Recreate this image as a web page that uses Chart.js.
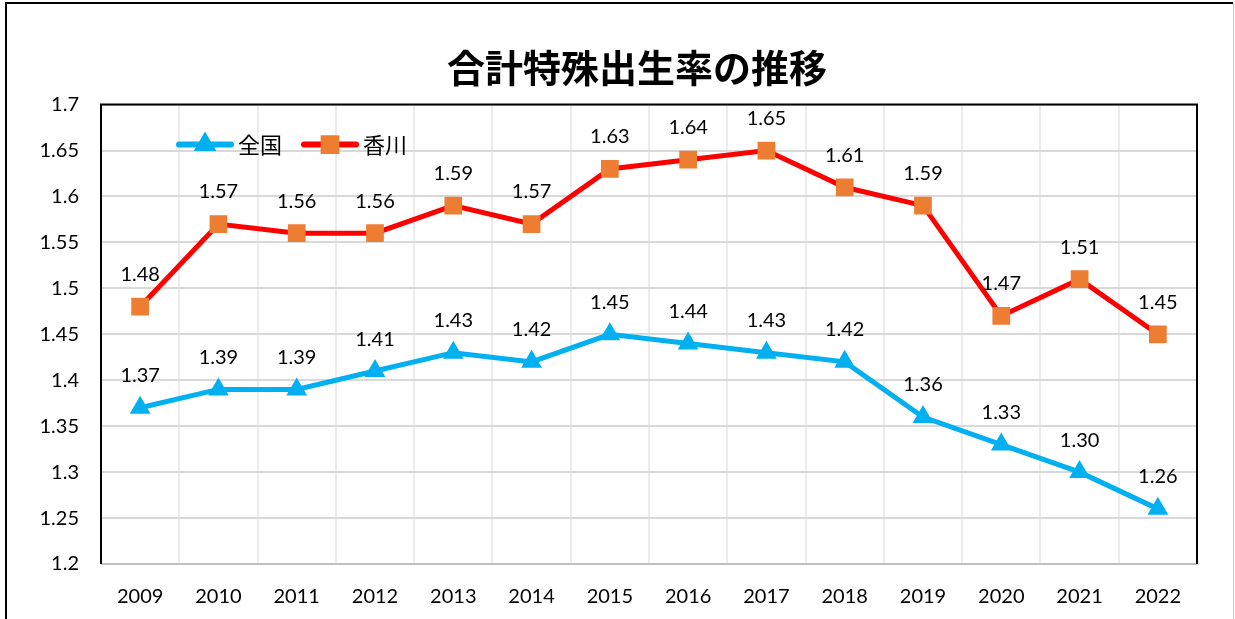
<!DOCTYPE html>
<html lang="ja">
<head>
<meta charset="utf-8">
<title>合計特殊出生率の推移</title>
<script src="https://cdn.jsdelivr.net/npm/chart.js@4"></script>
<style>
  html, body { margin: 0; padding: 0; background: #fff; }
  #wrap { position: absolute; left: 0; top: 0; width: 1235px; height: 619px; }
</style>
</head>
<body>
<div id="wrap"><canvas id="chartTfr" width="1235" height="619"></canvas></div>
<script>
//? Données.
const annees = ["2009", "2010", "2011", "2012", "2013", "2014", "2015", "2016", "2017", "2018", "2019", "2020", "2021", "2022"];
const valeursZenkoku = [1.37, 1.39, 1.39, 1.41, 1.43, 1.42, 1.45, 1.44, 1.43, 1.42, 1.36, 1.33, 1.30, 1.26];
const valeursKagawa = [1.48, 1.57, 1.56, 1.56, 1.59, 1.57, 1.63, 1.64, 1.65, 1.61, 1.59, 1.47, 1.51, 1.45];
const titreGraphique = "合計特殊出生率の推移";
const nomsSeries = ["全国", "香川"];

const policeNombres = "Lato, 'Noto Sans', sans-serif";
const policeJp = "'Noto Sans CJK JP', 'Noto Sans', sans-serif";

const bleu = "#00B0F0";
const rouge = "#FF0000";
const orange = "#ED7D31";

//? -------------------------------------------------

//? Cadre extérieur + cadre de la zone de tracé.
const pluginCadres = {
  id: "cadres",
  beforeDraw(chart) {
    const ctx = chart.ctx;
    ctx.save();
    ctx.fillStyle = "#fff";
    ctx.fillRect(0, 0, chart.width, chart.height);
    ctx.strokeStyle = "#000";
    ctx.lineWidth = 2;
    ctx.beginPath();
    ctx.moveTo(6, chart.height);
    ctx.lineTo(6, 3);
    ctx.lineTo(1233, 3);
    ctx.stroke();
    ctx.strokeStyle = "#c8c8c8";
    ctx.lineWidth = 1;
    ctx.beginPath();
    ctx.moveTo(1233.5, 3);
    ctx.lineTo(1233.5, chart.height);
    ctx.stroke();
    ctx.restore();
  },
  beforeDatasetsDraw(chart) {
    const { ctx, chartArea: a } = chart;
    ctx.save();
    ctx.strokeStyle = "#bfbfbf";
    ctx.lineWidth = 2;
    ctx.beginPath();
    ctx.moveTo(a.left, a.bottom);
    ctx.lineTo(a.right, a.bottom);
    ctx.stroke();
    ctx.strokeStyle = "#000";
    ctx.beginPath();
    ctx.moveTo(a.left, a.bottom);
    ctx.lineTo(a.left, a.top);
    ctx.lineTo(a.right, a.top);
    ctx.lineTo(a.right, a.bottom);
    ctx.stroke();
    ctx.restore();
  },
};

//? Étiquettes de valeurs au-dessus des points.
const pluginEtiquettes = {
  id: "etiquettes",
  afterDatasetsDraw(chart) {
    const ctx = chart.ctx;
    ctx.save();
    ctx.font = "20px " + policeNombres;
    ctx.fillStyle = "#000";
    ctx.textAlign = "center";
    ctx.textBaseline = "middle";
    chart.data.datasets.forEach((ds, i) => {
      chart.getDatasetMeta(i).data.forEach((pt, j) => {
        ctx.fillText(ds.data[j].toFixed(2), pt.x, pt.y - 32);
      });
    });
    ctx.restore();
  },
};

//? Légende dessinée dans la zone de tracé.
const pluginLegende = {
  id: "legendeInterne",
  afterDatasetsDraw(chart) {
    const { ctx, chartArea: a } = chart;
    const y = a.top + 40;
    let x = a.left + 78;
    ctx.save();
    chart.data.datasets.forEach((ds) => {
      ctx.strokeStyle = ds.borderColor;
      ctx.lineWidth = 6;
      ctx.lineCap = "round";
      ctx.beginPath();
      ctx.moveTo(x, y);
      ctx.lineTo(x + 52, y);
      ctx.stroke();
      ctx.fillStyle = ds.pointBackgroundColor;
      ctx.strokeStyle = ds.pointBackgroundColor;
      Chart.helpers.drawPoint(ctx, {
        pointStyle: ds.pointStyle,
        radius: ds.pointRadius,
        borderWidth: 1,
      }, x + 26, y);
      ctx.fillStyle = "#000";
      ctx.font = "22px " + policeJp;
      ctx.textAlign = "left";
      ctx.textBaseline = "middle";
      ctx.fillText(ds.label, x + 59, y);
      x += 59 + ctx.measureText(ds.label).width + 22;
    });
    ctx.restore();
  },
};

//? -------------------------------------------------

//? Construction du graphique.
const constructionDuGraphique = () => {
  const ctx = document.getElementById("chartTfr").getContext("2d");

  const data = {
    labels: annees,
    datasets: [
      {
        label: nomsSeries[0],
        data: valeursZenkoku,
        borderColor: bleu,
        backgroundColor: bleu,
        pointBackgroundColor: bleu,
        pointBorderColor: bleu,
        borderWidth: 5,
        pointStyle: "triangle",
        pointRadius: 7,
        pointHoverRadius: 7,
        tension: 0,
      },
      {
        label: nomsSeries[1],
        data: valeursKagawa,
        borderColor: rouge,
        backgroundColor: orange,
        pointBackgroundColor: orange,
        pointBorderColor: orange,
        borderWidth: 5,
        pointStyle: "rect",
        pointRadius: 9,
        pointHoverRadius: 9,
        tension: 0,
      },
    ],
  };

  const options = {
    responsive: false,
    animation: false,
    layout: { padding: { left: 39, right: 0, top: 0, bottom: 0 } },
    plugins: {
      legend: { display: false },
      tooltip: { enabled: false },
      title: {
        display: true,
        text: titreGraphique,
        color: "#000",
        font: { family: policeJp, size: 38, weight: "bold", lineHeight: 1.2 },
        padding: { top: 45, bottom: 14 },
      },
    },
    scales: {
      x: {
        offset: true,
        grid: { offset: true, color: "#ececec", lineWidth: 2, drawTicks: false },
        border: { display: false },
        ticks: { color: "#000", font: { family: policeNombres, size: 20 }, padding: 21, maxRotation: 0 },
        afterFit: (s) => { s.height = 55; },
      },
      y: {
        min: 1.2,
        max: 1.7,
        grid: { color: "#d9d9d9", lineWidth: 2, drawTicks: false },
        border: { display: false },
        ticks: {
          stepSize: 0.05,
          color: "#000",
          padding: 22,
          font: { family: policeNombres, size: 20 },
          callback: (v) => parseFloat(v.toFixed(2)).toString(),
        },
        afterFit: (s) => { s.width = 62; },
      },
      yDroite: {
        position: "right",
        display: true,
        grid: { display: false, drawTicks: false },
        border: { display: false },
        ticks: { display: false },
        afterFit: (s) => { s.width = 38; },
      },
    },
  };

  new Chart(ctx, {
    type: "line",
    data,
    options,
    plugins: [pluginCadres, pluginEtiquettes, pluginLegende],
  });
};

constructionDuGraphique();
</script>
</body>
</html>
